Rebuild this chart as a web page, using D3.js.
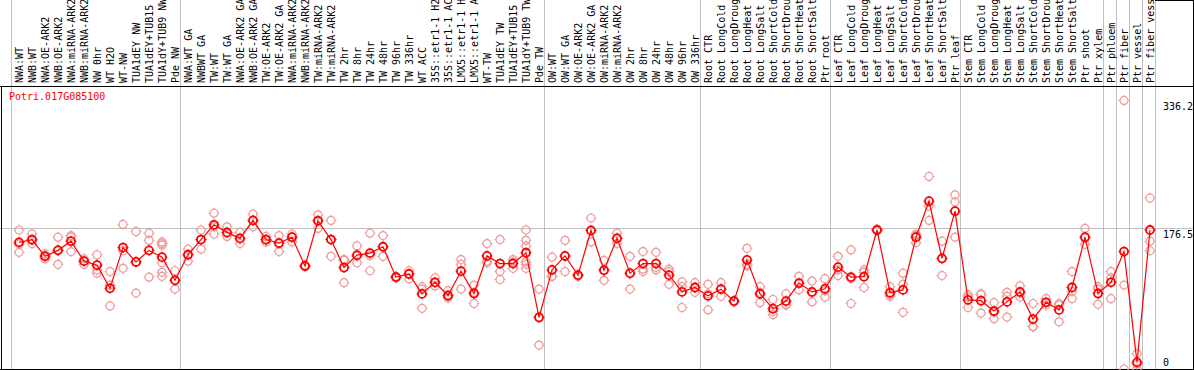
<!DOCTYPE html>
<html><head><meta charset="utf-8">
<script src="https://cdn.jsdelivr.net/npm/d3@7"></script>
<style>body{margin:0;background:#fff}svg{display:block}text{font-family:"DejaVu Sans Mono",monospace;font-size:10px}</style>
</head><body>
<script>
const title = "Potri.017G085100";
const categories = ["NWA:WT","NWB:WT","NWA:OE-ARK2","NWB:OE-ARK2","NWA:miRNA-ARK2","NWB:miRNA-ARK2","NW 0hr","WT H2O","WT-NW","TUA1dEY NW","TUA1dEY+TUB15 NW","TUA1dY+TUB9 NW","Pde NW",
"NWA:WT GA","NWBWT GA","TW:WT","TW:WT GA","NWA:OE-ARK2 GA","NWB:OE-ARK2 GA","TW:OE-ARK2","TW:OE-ARK2 GA","NWA:miRNA-ARK2 GA","NWB:miRNA-ARK2 GA","TW:miRNA-ARK2","TW:miRNA-ARK2 GA","TW 2hr","TW 8hr","TW 24hr","TW 48hr","TW 96hr","TW 336hr","WT ACC","35S::etr1-1 H2O","35S::etr1-1 ACC","LMX5::etr1-1 H2O","LMX5::etr1-1 ACC","WT-TW","TUA1dEY TW","TUA1dEY+TUB15 TW","TUA1dY+TUB9 TW","Pde TW",
"OW:WT","OW:WT GA","OW:OE-ARK2","OW:OE-ARK2 GA","OW:miRNA-ARK2","OW:miRNA-ARK2 GA","OW 2hr","OW 8hr","OW 24hr","OW 48hr","OW 96hr","OW 336hr",
"Root CTR","Root LongCold","Root LongDrought","Root LongHeat","Root LongSalt","Root ShortCold","Root ShortDrought","Root ShortHeat","Root ShortSalt","Ptr root",
"Leaf CTR","Leaf LongCold","Leaf LongDrought","Leaf LongHeat","Leaf LongSalt","Leaf ShortCold","Leaf ShortDrought","Leaf ShortHeat","Leaf ShortSalt","Ptr leaf",
"Stem CTR","Stem LongCold","Stem LongDrought","Stem LongHeat","Stem LongSalt","Stem ShortCold","Stem ShortDrought","Stem ShortHeat","Stem ShortSalt","Ptr shoot",
"Ptr xylem","Ptr phloem","Ptr fiber","Ptr vessel","Ptr fiber vessel"];
const means = [158.5,162,141,148.5,160,135,130,101,152,134,148.5,140,111,
143,162,180.5,171,163.5,186,162,157.5,165,129,185.5,162,127,142.5,145,153,115,119,94,108.5,92,122.5,94.5,141.5,132,132,145.5,64.5,
124,141.5,117.5,173.5,123.5,163.5,120,132,132,117.5,96.5,102,
91.5,100,85,136.5,94,75.5,85,107.5,96.5,100.5,
127.5,115,115.5,174,95.5,99,165,210,138.5,197.5,
86.5,85.5,72.5,84,96.5,62.5,83.5,74,102,165,
94.5,108.5,147,8.3,174];
const replicates = [[174,146,156],[169,157,161],[144,138,142],[165,131,149],[167,165,147],[138,131,135],[143,130,124,120],[122,105,79],[181,148,126],[172,134,95],[170,161,115],[159,157,155,133,121,116],[123,111,100],
[150,143,135],[174,150,162],[195,169,178],[178,166,170],[171,157,163],[194,178,186],[166,159,162],[167,158,147],[169,165,159],[130,128,129],[193,176,186],[186,162,141],[136,137,108],[154,141,133],[170,142,123],[167,153,141],[115,114,116],[123,119,113],[103,100,76],[114,108,104],[98,90,89],[137,131,100],[105,96,82],[157,135,133],[162,122,112],[137,134,126],[174,161,154,134,131,126],[100,65,30],
[140,116,116],[161,141,122],[118,116,117],[189,173,159],[136,124,111],[170,164,157],[141,119,100],[147,125,122],[146,127,124],[125,122,106],[109,103,77],[108,102,96],
[106,94,74],[108,100,91],[86,84,85],[151,131,129],[103,96,83],[87,72,68],[94,81,80],[116,107,99],[110,95,84],[113,98,90],
[141,124,117],[149,113,82],[124,121,102],[175,173,174],[103,93,91],[120,106,71],[169,167,158],[241,204,186],[160,138,117],[218,209,165],
[93,90,77],[93,94,70],[83,71,63],[96,91,65],[104,95,90],[82,53,53],[88,83,80],[82,80,59],[122,97,88],[176,164,156],
[103,100,81],[122,114,88],[336.2,105,0],[19,6,0],[214,160,148]];
const yTickLabels = [0, 176.5, 336.2];
const hGrid = [176.5];
const groupStarts = [0,13,41,53,63,73,84,85,86,87,88];

const W = 1194, H = 370;
const svg = d3.select("body").append("svg").attr("width", W).attr("height", H);
const x = d3.scaleLinear().domain([0, categories.length - 1]).range([19, 1150]);
const y = d3.scaleLinear().domain([0, 336.2]).range([369, 100.4]);

// grid
svg.selectAll(".vg").data(groupStarts).join("line")
  .attr("x1", d => Math.round(x(d) - 8) + 0.5).attr("x2", d => Math.round(x(d) - 8) + 0.5)
  .attr("y1", 0).attr("y2", 369).attr("stroke", "#c0c0c0").attr("stroke-width", 1);
svg.selectAll(".hg").data(hGrid).join("line")
  .attr("x1", 0).attr("x2", W).attr("y1", d => Math.round(y(d)) + 0.5).attr("y2", d => Math.round(y(d)) + 0.5)
  .attr("stroke", "#c0c0c0").attr("stroke-width", 1);

// frame
const frame = svg.append("g").attr("stroke", "#000").attr("stroke-width", 1);
frame.append("line").attr("x1", 0).attr("x2", W).attr("y1", 86.5).attr("y2", 86.5);
frame.append("line").attr("x1", 0).attr("x2", W).attr("y1", 369.5).attr("y2", 369.5);
frame.append("line").attr("x1", 1.5).attr("x2", 1.5).attr("y1", 86).attr("y2", 370);
frame.append("line").attr("x1", 1193.5).attr("x2", 1193.5).attr("y1", 0).attr("y2", 370);
frame.append("line").attr("x1", Math.round(x(88) - 8)).attr("x2", W).attr("y1", 0.5).attr("y2", 0.5);

// category labels
svg.selectAll(".cl").data(categories).join("text")
  .attr("transform", (d, i) => `translate(${x(i) + 3.5},83) rotate(-90)`)
  .attr("fill", "#000").text(d => d);

// title
svg.append("text").attr("x", 9).attr("y", 100).attr("fill", "#f00").text(title);

// y labels
svg.selectAll(".yl").data(yTickLabels).join("text")
  .attr("x", 1163).attr("y", d => Math.min(y(d) + 10, 366)).attr("fill", "#000")
  .text(d => String(d));

function marker(g, color, sw) {
  g.append("circle").attr("r", 4).attr("fill", "none").attr("stroke", color).attr("stroke-width", sw);
  [[0,-4,0,-5.5],[0,4,0,5.5],[-4,0,-5.5,0],[4,0,5.5,0]].forEach(s =>
    g.append("line").attr("x1", s[0]).attr("y1", s[1]).attr("x2", s[2]).attr("y2", s[3])
      .attr("stroke", color).attr("stroke-width", 1));
}

// replicates
const reps = [];
replicates.forEach((arr, i) => arr.forEach(v => reps.push({i, v})));
svg.append("g").selectAll("g").data(reps).join("g")
  .attr("transform", d => `translate(${x(d.i)},${y(d.v)})`)
  .each(function() { marker(d3.select(this), "#ef9a9a", 1.2); });

// mean line
svg.append("path").datum(means)
  .attr("d", d3.line().x((d, i) => x(i)).y(d => y(d)))
  .attr("fill", "none").attr("stroke", "#f00").attr("stroke-width", 1.2);

// means
svg.append("g").selectAll("g").data(means).join("g")
  .attr("transform", (d, i) => `translate(${x(i)},${y(d)})`)
  .each(function() { marker(d3.select(this), "#f00", 1.8); });
</script>
</body></html>
